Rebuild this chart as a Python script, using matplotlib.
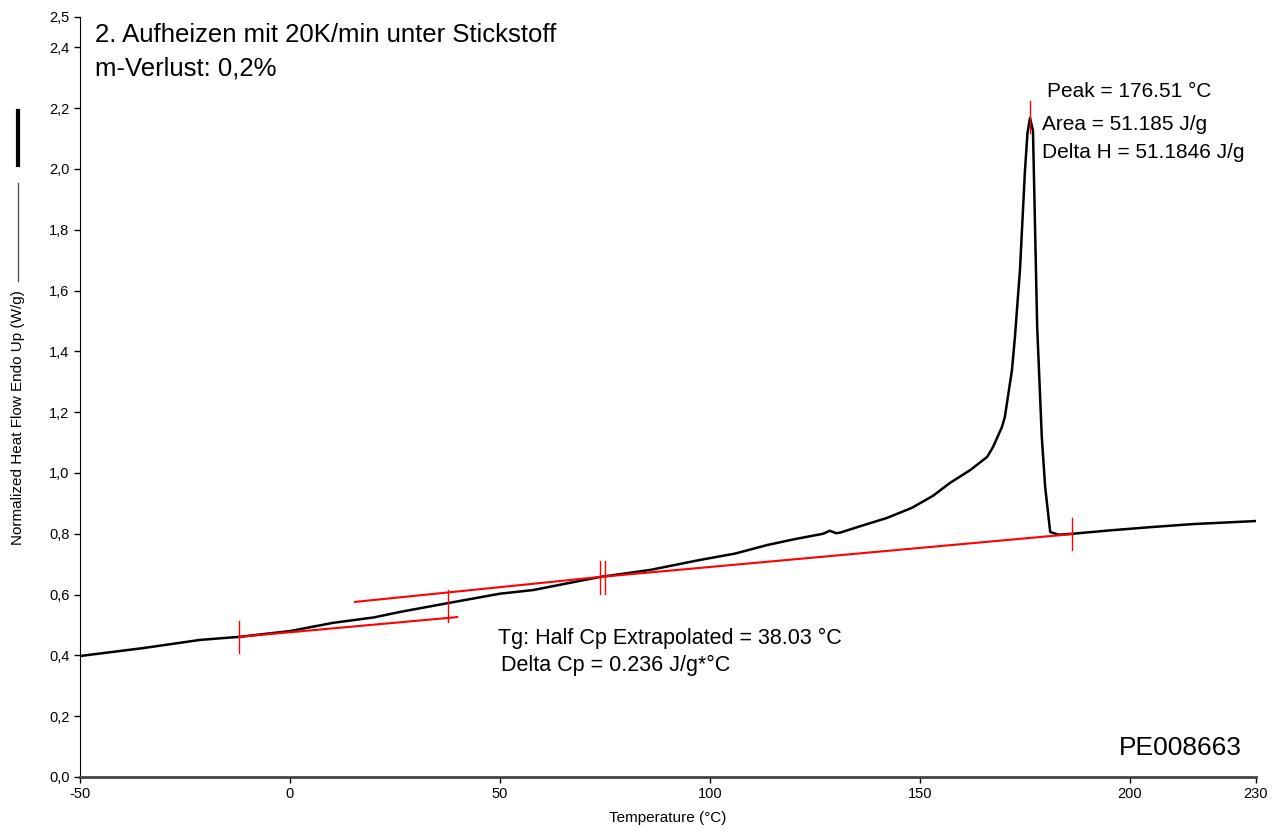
import matplotlib
matplotlib.use("Agg")
import matplotlib.pyplot as plt
from matplotlib.lines import Line2D

plt.rcParams['font.family'] = ['Liberation Sans', 'DejaVu Sans']

# DSC curve
temp = [-50, -35, -21.4, -12.1, 0, 10.2, 20, 26.2, 37.6, 50, 57.9, 66, 73.8,
        85.7, 97.6, 106, 113.6, 120, 126.9, 128.5, 130, 131, 136, 142.1, 148,
        153.1, 157.1, 162, 166, 167.4, 169.5, 170.2, 171.9, 172.6, 173.8, 175,
        175.6, 176.2, 176.9, 177.9, 179, 179.8, 181, 183, 186.2, 195, 205, 215, 230]
heat_flow = [0.398, 0.424, 0.451, 0.461, 0.48, 0.507, 0.525, 0.543, 0.572, 0.603,
             0.615, 0.637, 0.658, 0.681, 0.714, 0.735, 0.763, 0.782, 0.80, 0.81,
             0.802, 0.804, 0.826, 0.852, 0.885, 0.925, 0.967, 1.01, 1.053, 1.086,
             1.151, 1.184, 1.339, 1.447, 1.668, 1.997, 2.12, 2.168, 2.125, 1.48,
             1.118, 0.954, 0.806, 0.797, 0.80, 0.811, 0.822, 0.832, 0.842]

# red analysis lines (Tg tangents + peak baseline)
tg_low_x = [-12.1, 39.8]
tg_low_y = [0.461, 0.526]
tg_up_x = [15.5, 73.8]
tg_up_y = [0.576, 0.658]
base_x = [73.8, 186.2]
base_y = [0.658, 0.799]

# red tick marks: x position, y centre
mark_x = [-12.1, 37.6, 73.8, 75.0, 186.2, 176.2]
mark_y = [0.461, 0.563, 0.656, 0.656, 0.799, 2.17]

x_ticks = [-50, 0, 50, 100, 150, 200, 230]
y_ticks = [0.0, 0.2, 0.4, 0.6, 0.8, 1.0, 1.2, 1.4, 1.6, 1.8, 2.0, 2.2, 2.4, 2.5]

fig = plt.figure(figsize=(12.8, 8.39), dpi=100)
ax = fig.add_axes([80/1280, 1-777/839, 1176/1280, 760/839])

ax.plot(temp, heat_flow, color='black', lw=1.8, zorder=3)
ax.plot(tg_low_x, tg_low_y, color='red', lw=1.5, zorder=4)
ax.plot(tg_up_x, tg_up_y, color='red', lw=1.5, zorder=4)
ax.plot(base_x, base_y, color='red', lw=1.5, zorder=4)
for mx, my in zip(mark_x, mark_y):
    ax.plot([mx, mx], [my - 0.053, my + 0.053], color='red', lw=1.0, zorder=4)

ax.set_xlim(-50, 230)
ax.set_ylim(0, 2.5)
ax.set_xticks(x_ticks)
ax.set_xticklabels([str(t) for t in x_ticks])
ax.set_yticks(y_ticks)
ax.set_yticklabels([f"{t:.1f}".replace('.', ',') for t in y_ticks])
ax.tick_params(axis='both', labelsize=10.5, length=4, width=1, direction='out')
ax.spines['top'].set_visible(False)
ax.spines['right'].set_visible(False)
ax.spines['bottom'].set_linewidth(2)
ax.spines['bottom'].set_color('#444444')
ax.set_xlabel('Temperature (°C)', fontsize=11, labelpad=7)

# texts
ax.text(-46.5, 2.44, '2. Aufheizen mit 20K/min unter Stickstoff', fontsize=18.5, va='center')
ax.text(-46.5, 2.33, 'm-Verlust: 0,2%', fontsize=18.5, va='center')
ax.text(180.2, 2.255, 'Peak = 176.51 °C', fontsize=15, va='center')
ax.text(179, 2.145, 'Area = 51.185 J/g', fontsize=15, va='center')
ax.text(179, 2.055, 'Delta H = 51.1846 J/g', fontsize=15, va='center')
ax.text(49.5, 0.455, 'Tg: Half Cp Extrapolated = 38.03 °C', fontsize=15.5, va='center')
ax.text(50.2, 0.366, 'Delta Cp = 0.236 J/g*°C', fontsize=15.5, va='center')
ax.text(226.5, 0.095, 'PE008663', fontsize=19, va='center', ha='right')

# y label with line sample
fig.text(18/1280, 1-418/839, 'Normalized Heat Flow Endo Up (W/g)', rotation=90,
         fontsize=11, ha='center', va='center')
fig.add_artist(Line2D([18/1280, 18/1280], [1-281/839, 1-183/839],
                      transform=fig.transFigure, color='#555555', lw=1))
fig.add_artist(Line2D([18/1280, 18/1280], [1-165/839, 1-111/839],
                      transform=fig.transFigure, color='black', lw=3))

fig.savefig('out.png', dpi=100)
